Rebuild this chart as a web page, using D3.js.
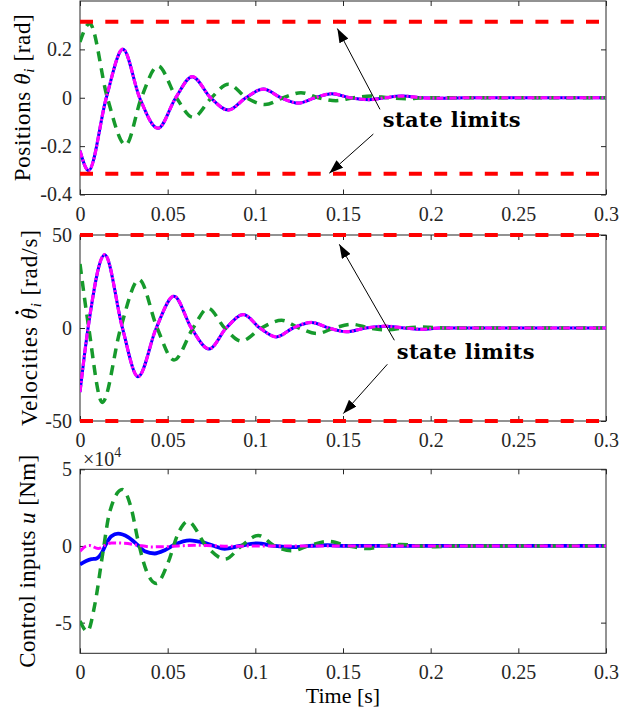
<!DOCTYPE html>
<html>
<head>
<meta charset="utf-8">
<script src="https://cdn.jsdelivr.net/npm/d3@7"></script>
<style>
body { margin: 0; background: #fff; }
</style>
</head>
<body>
<div id="chart-area"></div>
<script>
let width = 621,
height = 710;

// x axis ticks (time, s)
let timeTicks = [0, 0.05, 0.1, 0.15, 0.2, 0.25, 0.3];

// positions theta_i [rad]
let posT     = [0, 0.0049, 0.015, 0.0245, 0.034, 0.0445, 0.0546, 0.064, 0.0745, 0.0846, 0.0946, 0.1046, 0.1146, 0.1246, 0.134, 0.1436, 0.154, 0.165, 0.174, 0.1835, 0.195, 0.205, 0.22, 0.3];
let posBlue  = [-0.219, -0.301, 0, 0.201, 0, -0.126, 0, 0.087, 0, -0.051, 0, 0.036, 0, -0.022, 0, 0.017, 0, -0.008, 0, 0.007, 0, -0.002, 0, 0];
let posMag   = posBlue.slice(); // same trajectory as blue
let posGrnT  = [0, 0.0055, 0.0156, 0.026, 0.035, 0.0445, 0.055, 0.0645, 0.075, 0.0846, 0.095, 0.1055, 0.116, 0.126, 0.136, 0.146, 0.156, 0.166, 0.176, 0.186, 0.197, 0.21, 0.3];
let posGrn   = [0.231, 0.307, 0, -0.195, 0, 0.131, 0, -0.081, 0, 0.056, 0, -0.028, 0, 0.021, 0, -0.012, 0, 0.007, 0, -0.004, 0, 0, 0];
let posTicks = [-0.4, -0.2, 0, 0.2];
let posLimits = [-0.314, 0.314];

// velocities [rad/s]
let velT     = [0, 0.0046, 0.0141, 0.0242, 0.0331, 0.0435, 0.0536, 0.0635, 0.0736, 0.0834, 0.0932, 0.1026, 0.112, 0.1215, 0.132, 0.142, 0.152, 0.163, 0.174, 0.185, 0.195, 0.205, 0.22, 0.3];
let velBlue  = [-34.4, 0, 39.4, 0, -26.2, 0, 17.1, 0, -11.3, 0, 7.2, 0, -4.8, 0, 3.0, 0, -2.0, 0, 1.0, 0, -0.7, 0, 0, 0];
let velMag   = velBlue.slice();
let velGrnT  = [0, 0.005, 0.0127, 0.0232, 0.0337, 0.044, 0.0536, 0.0645, 0.073, 0.0825, 0.092, 0.1035, 0.115, 0.125, 0.135, 0.145, 0.155, 0.165, 0.175, 0.185, 0.195, 0.21, 0.3];
let velGrn   = [34.4, 0, -40, 0, 26, 0, -17.2, 0, 10.6, 0, -7, 0, 4.1, 0, -3, 0, 2.0, 0, -1.0, 0, 0.5, 0, 0];
let velTicks = [-50, 0, 50];
let velLimits = [-50, 50];

// control inputs u [Nm] x 10^4
let ctrlBlueT = [0, 0.0035, 0.0065, 0.0093, 0.0122, 0.015, 0.0179, 0.0217, 0.0274, 0.033, 0.0369, 0.0426, 0.0483, 0.054, 0.0626, 0.0711, 0.0765, 0.0825, 0.091, 0.101, 0.111, 0.121, 0.131, 0.141, 0.152, 0.3];
let ctrlBlue  = [-1.21, -0.98, -0.86, -0.82, -0.49, 0.16, 0.63, 0.8, 0.58, 0.05, -0.34, -0.49, -0.28, 0.09, 0.37, 0.2, 0, -0.18, 0, 0.17, 0, -0.08, 0, 0.05, 0, 0];
let ctrlGrnT  = [0, 0.0042, 0.0084, 0.0131, 0.0169, 0.0241, 0.0293, 0.033, 0.0378, 0.0435, 0.0502, 0.0559, 0.0616, 0.072, 0.0827, 0.092, 0.1017, 0.111, 0.1208, 0.13, 0.1415, 0.153, 0.1635, 0.173, 0.183, 0.193, 0.203, 0.215, 0.3];
let ctrlGrn   = [-4.9, -5.58, -3.85, -0.39, 2.2, 3.68, 2.43, 0.4, -1.6, -2.44, -1.1, 0.8, 1.6, 0, -0.86, 0, 0.69, 0, -0.32, 0, 0.3, 0, -0.17, 0, 0.1, 0, -0.05, 0, 0];
let ctrlMagT  = [0, 0.0036, 0.0055, 0.0103, 0.0141, 0.0179, 0.0255, 0.033, 0.0407, 0.048, 0.056, 0.065, 0.075, 0.085, 0.1, 0.3];
let ctrlMag   = [-0.35, 0, 0.03, -0.17, 0.04, 0.2, 0.18, 0.05, -0.06, -0.05, 0, 0.05, 0.02, -0.02, 0, 0];
let ctrlTicks = [-5, 0, 5];

// annotation arrows [t0, v0, t1, v1] and label anchor [t, v]
let posArrows = [[0.1711, -0.048, 0.1468, 0.286], [0.1673, -0.150, 0.1422, -0.312]];
let posNote = [0.1726, -0.122];
let velArrows = [[0.1793, -6.6, 0.1479, 45], [0.1753, -19.5, 0.1502, -46]];
let velNote = [0.1806, -16.5];

let zip = (t, v) => t.map((d, i) => [d, v[i]]);

let serif = "'Liberation Serif', serif";

let svg = d3.select("#chart-area").append("svg")
	.attr("width", width)
	.attr("height", height)
	.style("font-family", serif);

svg.append("defs").append("marker")
	.attr("id", "head")
	.attr("markerUnits", "userSpaceOnUse")
	.attr("markerWidth", 15).attr("markerHeight", 10)
	.attr("refX", 14).attr("refY", 5)
	.attr("orient", "auto")
	.append("path")
	.attr("d", "M0,0L14,5L0,10Z")
	.attr("fill", "#000");

let x = d3.scaleLinear().domain([0, 0.3]).range([80, 606]);

let green = "#169a2c";

let panels = [
	{ top: 1, bottom: 194.5, domain: [-0.4, 0.4], ticks: posTicks, labelX: 30, labelLen: 167,
	  label: ["Positions ", "θ", "i", " [rad]"], dot: false, limits: posLimits, arrows: posArrows, note: posNote,
	  series: [
		{ d: zip(posT, posBlue), color: "blue", w: 3, dash: null },
		{ d: zip(posGrnT, posGrn), color: green, w: 3.5, dash: "10,7" },
		{ d: zip(posT, posMag), color: "#ff00ff", w: 3.2, dash: "7,2,2,2" }
	  ] },
	{ top: 235, bottom: 421, domain: [-50, 50], ticks: velTicks, labelX: 37, labelLen: 196,
	  label: ["Velocities ", "θ", "i", " [rad/s]"], dot: true, limits: velLimits, arrows: velArrows, note: velNote,
	  series: [
		{ d: zip(velT, velBlue), color: "blue", w: 3, dash: null },
		{ d: zip(velGrnT, velGrn), color: green, w: 3.5, dash: "10,7" },
		{ d: zip(velT, velMag), color: "#ff00ff", w: 3.2, dash: "7,2,2,2" }
	  ] },
	{ top: 469.3, bottom: 653.3, domain: [-7, 5], ticks: ctrlTicks, labelX: 34.5, labelLen: 213,
	  label: ["Control inputs ", "u", "", " [Nm]"], dot: false, limits: null, arrows: null, note: null,
	  series: [
		{ d: zip(ctrlBlueT, ctrlBlue), color: "blue", w: 3.8, dash: null },
		{ d: zip(ctrlGrnT, ctrlGrn), color: green, w: 3.5, dash: "10,7" },
		{ d: zip(ctrlMagT, ctrlMag), color: "#ff00ff", w: 3, dash: "8,3,2,3" }
	  ] }
];

panels.forEach((p, k) => {
	let y = d3.scaleLinear().domain(p.domain).range([p.bottom, p.top]);
	let g = svg.append("g");
	let fs = 20;

	g.append("rect")
		.attr("x", x.range()[0]).attr("y", p.top)
		.attr("width", x.range()[1] - x.range()[0]).attr("height", p.bottom - p.top)
		.attr("fill", "none").attr("stroke", "#262626").attr("stroke-width", 1);

	g.append("g").attr("transform", "translate(0," + p.bottom + ")")
		.call(d3.axisBottom(x).tickValues(timeTicks).tickFormat(d => String(d))
			.tickSizeInner(-5).tickSizeOuter(0).tickPadding(12));
	g.append("g").attr("transform", "translate(0," + p.top + ")")
		.call(d3.axisTop(x).tickValues(timeTicks).tickFormat("").tickSizeInner(-5).tickSizeOuter(0));
	g.append("g").attr("transform", "translate(" + x.range()[0] + ",0)")
		.call(d3.axisLeft(y).tickValues(p.ticks).tickFormat(d => String(d))
			.tickSizeInner(-5).tickSizeOuter(0).tickPadding(8));
	g.append("g").attr("transform", "translate(" + x.range()[1] + ",0)")
		.call(d3.axisRight(y).tickValues(p.ticks).tickFormat("").tickSizeInner(-5).tickSizeOuter(0));

	g.selectAll(".domain").remove();
	g.selectAll(".tick line").attr("stroke", "#262626");
	g.selectAll(".tick text")
		.attr("font-size", fs)
		.style("font-family", serif)
		.attr("fill", "#262626");

	// y label
	let lg = g.append("g")
		.attr("transform", "translate(" + p.labelX + "," + (p.top + p.bottom) / 2 + ") rotate(-90)");
	let lab = lg.append("text")
		.attr("text-anchor", "middle")
		.attr("font-size", 23)
		.attr("fill", "#000")
		.attr("textLength", p.labelLen)
		.attr("lengthAdjust", "spacing");
	lab.append("tspan").text(p.label[0]);
	lab.append("tspan").attr("font-style", "italic").text(p.label[1]);
	if (p.label[2]) {
		lab.append("tspan").attr("font-style", "italic").attr("font-size", 15).attr("dy", 4).text(p.label[2]);
		lab.append("tspan").attr("dy", -4).text(p.label[3]);
	} else {
		lab.append("tspan").text(p.label[3]);
	}
	if (p.dot) {
		// dot over theta (time derivative)
		let r = lab.node().getExtentOfChar(p.label[0].length);
		lg.append("circle")
			.attr("cx", r.x + r.width * 0.62)
			.attr("cy", -20)
			.attr("r", 1.7)
			.attr("fill", "#000");
	}

	let clipId = "clip" + k;
	svg.append("clipPath").attr("id", clipId).append("rect")
		.attr("x", x.range()[0]).attr("y", p.top - 2)
		.attr("width", x.range()[1] - x.range()[0]).attr("height", p.bottom - p.top + 4);

	let line = d3.line()
		.x(d => x(d[0]))
		.y(d => y(d[1]))
		.curve(d3.curveMonotoneX);

	p.series.forEach(s => {
		g.append("path")
			.datum(s.d)
			.attr("clip-path", "url(#" + clipId + ")")
			.attr("d", line)
			.attr("fill", "none")
			.attr("stroke", s.color)
			.attr("stroke-width", s.w)
			.attr("stroke-dasharray", s.dash);
	});

	if (p.limits) {
		g.selectAll(".limit")
			.data(p.limits)
			.enter().append("line")
			.attr("class", "limit")
			.attr("x1", x(0)).attr("x2", x(0.3))
			.attr("y1", d => y(d)).attr("y2", d => y(d))
			.attr("stroke", "#ff0000")
			.attr("stroke-width", 4)
			.attr("stroke-dasharray", "13,12.3");
	}

	if (p.arrows) {
		g.selectAll(".arrow")
			.data(p.arrows)
			.enter().append("line")
			.attr("class", "arrow")
			.attr("x1", d => x(d[0])).attr("y1", d => y(d[1]))
			.attr("x2", d => x(d[2])).attr("y2", d => y(d[3]))
			.attr("stroke", "#000").attr("stroke-width", 1)
			.attr("marker-end", "url(#head)");
		g.append("text")
			.attr("x", x(p.note[0])).attr("y", y(p.note[1]))
			.style("font-family", "'DejaVu Serif', serif")
			.attr("font-weight", "bold")
			.attr("font-size", 21)
			.attr("fill", "#000")
			.attr("textLength", 138)
			.text("state limits");
	}

	if (k === 2) {
		let e = g.append("text")
			.attr("x", 83).attr("y", 466)
			.attr("font-size", 20).attr("fill", "#262626");
		e.append("tspan").text("×10");
		e.append("tspan").attr("font-size", 14).attr("dy", -9).text("4");

		g.append("text")
			.attr("x", (x.range()[0] + x.range()[1]) / 2).attr("y", 703)
			.attr("text-anchor", "middle")
			.attr("font-size", 22).attr("fill", "#000")
			.text("Time [s]");
	}
});
</script>
</body>
</html>
